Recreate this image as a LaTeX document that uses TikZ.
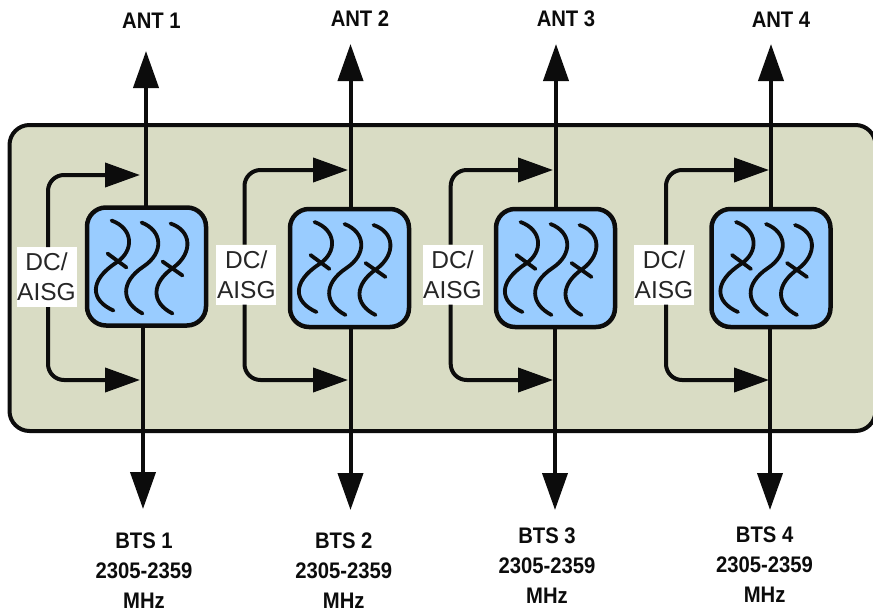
\documentclass[tikz,border=0pt]{standalone}
\usepackage{fontspec}
\setmainfont{Liberation Sans}
\newfontfamily\narrowbold[FakeStretch=0.9]{Liberation Sans Bold}
\usetikzlibrary{arrows.meta}
\definecolor{panelc}{HTML}{D9DCC4}
\definecolor{filterc}{HTML}{99CCFF}
\definecolor{inkc}{HTML}{0C0C0C}
\definecolor{dctext}{HTML}{262626}
\tikzset{
  panelbox/.style={draw=inkc,line width=4pt,rounded corners=20pt,fill=panelc,outer sep=0pt},
  filterbox/.style={draw=inkc,line width=4.5pt,rounded corners=19pt,fill=filterc,minimum width=119pt,minimum height=118pt,inner sep=0pt},
  sig/.style={draw=inkc,line width=4pt,-{Triangle[length=37pt,width=25pt]}},
  tap/.style={draw=inkc,line width=4pt,rounded corners=16pt,-{Triangle[length=35pt,width=24pt]}},
  wave/.style={draw=inkc,line width=3.8pt,line cap=round},
  dclabel/.style={fill=white,text=dctext,font=\fontsize{24.5}{30}\selectfont,align=center,inner sep=0pt,minimum width=60pt,minimum height=60pt},
  antlabel/.style={text=inkc,font=\narrowbold\fontsize{22.5}{24}\selectfont,inner sep=0pt},
  btslabel/.style={text=inkc,font=\narrowbold\fontsize{22.5}{30}\selectfont,align=center,inner sep=0pt}
}
\begin{document}
\begin{tikzpicture}[x=1pt,y=-1pt]
\useasboundingbox (0,0) rectangle (873,613);
\fill[white] (0,0) rectangle (873,613);
\node[panelbox,anchor=north west,minimum width=866pt,minimum height=306pt,inner sep=0pt] (panel) at (9.5,125) {};
\foreach \n/\fx/\fy/\tx/\bx/\axl/\ayl/\bxl/\byl/\dx/\dy/\lx/\ty/\tipx/\tipy/\boty in {
  1/146.5/266.5/146/143/151.5/21/144/571/46.5/277/48/175/140/51/509,
  2/349.5/268/350.5/350.5/360/19/343.7/571/246.3/274.6/244.5/170/348/44/510,
  3/555.5/268/556/555/566/19/547/566/452.5/274.5/450.7/170/553/44/510,
  4/771/268/771/770/781/20/764.6/564.5/664/274.5/666/170/769/44/510}
{
  \node[filterbox] (f\n) at (\fx,\fy) {};
  \node[antlabel] (ant\n) at (\axl,\ayl) {ANT \n};
  \node[btslabel] (bts\n) at (\bxl,\byl) {BTS \n\\2305-2359\\MHz};
  \coordinate (top\n) at (\tx,\tipy);
  \coordinate (bot\n) at (\bx,\boty);
  \coordinate (ftop\n) at (\tx,\fy-59);
  \coordinate (fbot\n) at (\bx,\fy+59);
  \draw[sig] (ftop\n) -- (top\n);
  \draw[sig] (fbot\n) -- (bot\n);
  \node[dclabel] (dc\n) at (\dx,\dy) {DC/\\AISG};
  \coordinate (tapa\n) at (\tipx,\ty);
  \coordinate (tapb\n) at (\tipx,380);
  \coordinate (dcup\n) at (\lx,\dy-30);
  \coordinate (dcdn\n) at (\lx,\dy+30);
  \draw[tap] (dcup\n) |- (tapa\n);
  \draw[tap] (dcdn\n) |- (tapb\n);
  \begin{scope}[shift={(\fx,\fy)}]
    \draw[wave] (-35,-46) .. controls (-13,-38) and (-12,-16) .. (-30,-4) .. controls (-58,14) and (-56,34) .. (-33,44);
    \draw[wave] (-5,-44) .. controls (16,-36) and (18,-14) .. (-3,0) .. controls (-27,16) and (-25,36) .. (-4,47);
    \draw[wave] (24,-43) .. controls (45,-36) and (47,-14) .. (27,1) .. controls (5,16) and (4,36) .. (26,47);
    \draw[wave] (-39,-13) -- (-20,1);
    \draw[wave] (16,-5) -- (36,9);
  \end{scope}
}
\end{tikzpicture}
\end{document}
